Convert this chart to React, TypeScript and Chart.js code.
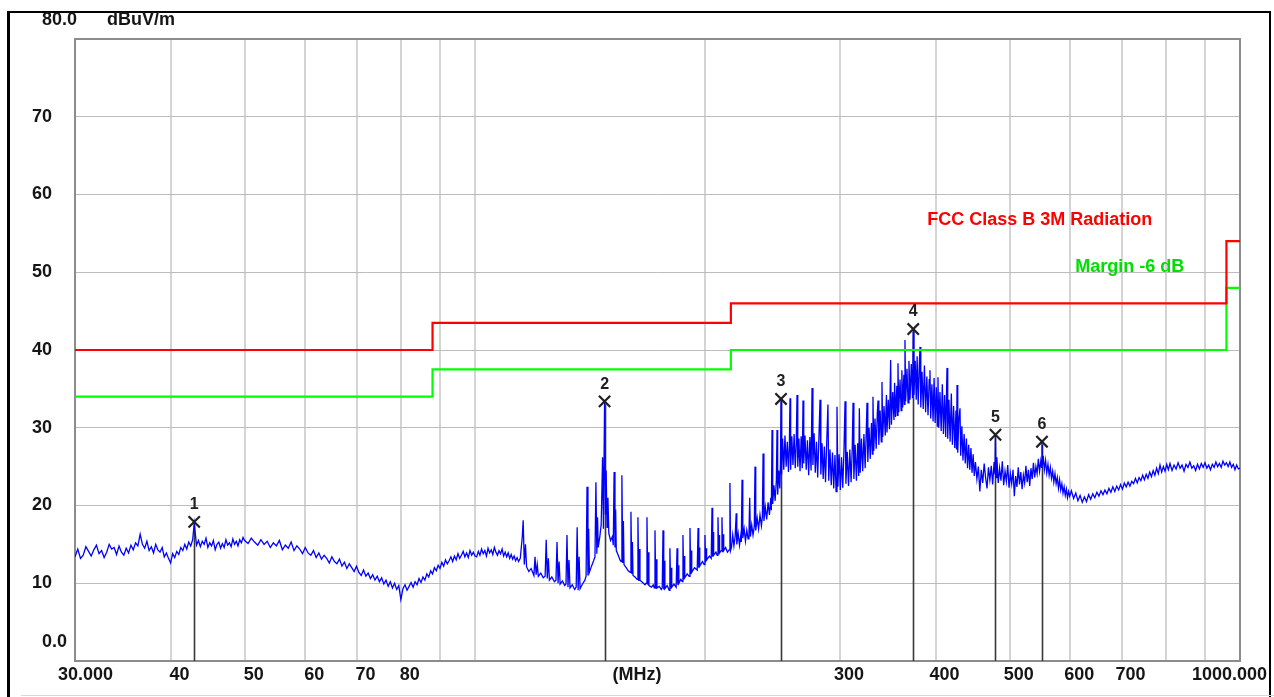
import React, { useEffect, useRef } from "react";
import { Chart, registerables } from "chart.js";

Chart.register(...registerables);

// ---------- axis definition ----------
const FREQ_MIN = 30;
const FREQ_MAX = 1000;
const LEVEL_MIN = 0;
const LEVEL_MAX = 80;

const xGridMHz = [40, 50, 60, 70, 80, 90, 100, 200, 300, 400, 500, 600, 700, 800, 900];
const xTickMHz = [30, 40, 50, 60, 70, 80, 300, 400, 500, 600, 700, 1000];
const xTickText = ["30.000", "40", "50", "60", "70", "80", "300", "400", "500", "600", "700", "1000.000"];
const yTickDb = [10, 20, 30, 40, 50, 60, 70];
const yTickText = ["10", "20", "30", "40", "50", "60", "70"];
const yBottomText = "0.0";
const yTopText = "80.0";
const yUnit = "dBuV/m";
const xUnit = "(MHz)";

// ---------- limit lines ----------
const limitMHz = [30, 88, 216, 960, 1000];
const limitClassB = [40, 43.5, 46, 54, 54];
const limitMargin = [34, 37.5, 40, 48, 48];
const limitClassBName = "FCC Class B 3M Radiation";
const limitMarginName = "Margin -6 dB";

// ---------- markers ----------
const markerId = ["1", "2", "3", "4", "5", "6"];
const markerMHz = [42.95, 147.7, 251.2, 374.0, 479.0, 551.0];
const markerDb = [17.9, 33.4, 33.7, 42.7, 29.1, 28.2];

// ---------- measured trace (MHz, dBuV/m) ----------
const scan30to50: [number, number][] = [
  [30.0, 13.4], [30.25, 14.4], [30.5, 13.2], [30.75, 13.6], [31.0, 14.7], [31.25, 14.1], [31.5, 13.5], [31.75, 14.3],
  [32.0, 14.9], [32.25, 13.8], [32.5, 14.2], [32.75, 13.3], [33.0, 14.0], [33.25, 15.0], [33.5, 14.4], [33.75, 14.6],
  [34.0, 13.7], [34.25, 14.8], [34.5, 14.0], [34.75, 13.6], [35.0, 14.5], [35.25, 13.9], [35.5, 14.9], [35.75, 14.3],
  [36.0, 15.2], [36.25, 14.8], [36.5, 16.3], [36.75, 15.0], [37.0, 14.5], [37.25, 15.4], [37.5, 14.2], [37.75, 14.7],
  [38.0, 13.9], [38.25, 15.0], [38.5, 14.3], [38.75, 14.0], [39.0, 14.6], [39.25, 13.4], [39.5, 13.9], [39.75, 13.2],
  [40.0, 12.6], [40.25, 13.8], [40.5, 13.3], [40.75, 14.1], [41.0, 13.7], [41.25, 14.6], [41.5, 14.2], [41.75, 15.0],
  [42.0, 14.4], [42.25, 15.3], [42.5, 14.8], [42.75, 15.6], [42.95, 17.7], [43.25, 14.9], [43.5, 15.5], [43.75, 14.7],
  [44.0, 15.4], [44.25, 15.0], [44.5, 15.8], [44.75, 14.6], [45.0, 15.2], [45.25, 14.8], [45.5, 15.5], [45.75, 14.3],
  [46.0, 15.0], [46.25, 15.3], [46.5, 14.5], [46.75, 15.1], [47.0, 14.6], [47.25, 15.6], [47.5, 14.9], [47.75, 15.2],
  [48.0, 14.7], [48.25, 15.7], [48.5, 15.0], [48.75, 15.4], [49.0, 14.8], [49.25, 15.6], [49.5, 15.2], [49.75, 15.9],
  [50.0, 15.5],
];

const scan50to100: [number, number][] = [
  [50.5, 15.1], [51.0, 15.8], [51.5, 15.3], [52.0, 14.9], [52.5, 15.6], [53.0, 15.0], [53.5, 15.4], [54.0, 14.6],
  [54.5, 15.2], [55.0, 14.8], [55.5, 15.5], [56.0, 14.3], [56.5, 14.9], [57.0, 14.5], [57.5, 15.3], [58.0, 14.2],
  [58.5, 14.8], [59.0, 14.4], [59.5, 13.8], [60.0, 14.6], [60.5, 13.9], [61.0, 13.6], [61.5, 14.2], [62.0, 13.3],
  [62.5, 13.9], [63.0, 13.1], [63.5, 13.6], [64.0, 13.2], [64.5, 12.6], [65.0, 13.4], [65.5, 12.8], [66.0, 12.5],
  [66.5, 13.1], [67.0, 12.2], [67.5, 12.7], [68.0, 11.9], [68.5, 12.5], [69.0, 12.0], [69.5, 11.5], [70.0, 12.2],
  [70.5, 11.4], [71.0, 11.0], [71.5, 11.7], [72.0, 10.9], [72.5, 11.3], [73.0, 10.6], [73.5, 11.1], [74.0, 10.4],
  [74.5, 10.9], [75.0, 10.2], [75.5, 10.7], [76.0, 9.9], [76.5, 10.4], [77.0, 9.6], [77.5, 10.2], [78.0, 9.4],
  [78.5, 10.0], [79.0, 9.2], [79.5, 9.7], [80.0, 7.9], [80.5, 9.3], [81.0, 9.8], [81.5, 9.1], [82.0, 9.6],
  [82.5, 10.1], [83.0, 9.5], [83.5, 10.2], [84.0, 9.8], [84.5, 10.6], [85.0, 10.1], [85.5, 10.8], [86.0, 10.4],
  [86.5, 11.2], [87.0, 10.8], [87.5, 11.6], [88.0, 11.2], [88.5, 12.0], [89.0, 11.6], [89.5, 12.3], [90.0, 11.9],
  [90.5, 12.7], [91.0, 12.2], [91.5, 13.0], [92.0, 12.5], [92.5, 12.9], [93.0, 13.4], [93.5, 12.8], [94.0, 13.5],
  [94.5, 13.0], [95.0, 13.8], [95.5, 13.2], [96.0, 13.6], [96.5, 14.1], [97.0, 13.4], [97.5, 13.9], [98.0, 13.3],
  [98.5, 14.2], [99.0, 13.6], [99.5, 14.0], [100.0, 13.5],
];

const scan100to216: [number, number][] = [
  [100.5, 13.4], [101, 14.1], [101.5, 13.6], [102, 14.4], [102.5, 13.8], [103, 14.2], [103.5, 13.5], [104, 14.5],
  [104.5, 13.9], [105, 14.3], [105.5, 13.7], [106, 14.6], [106.5, 14.0], [107, 13.6], [107.5, 14.2], [108, 13.8],
  [108.5, 14.4], [109, 13.5], [109.5, 14.0], [110, 13.4], [110.5, 13.9], [111, 13.2], [111.5, 13.7], [112, 13.1],
  [112.5, 13.5], [113, 12.9], [113.5, 13.3], [114, 12.8], [114.6, 13.2], [115.3, 16.0], [115.6, 18.1], [116.0, 12.4],
  [116.4, 15.0], [116.8, 12.1], [117.6, 11.5], [118.4, 11.9], [119.4, 11.0], [119.8, 13.4], [120.2, 11.1], [120.6, 12.4],
  [121.0, 10.9], [121.9, 11.3], [122.8, 10.7], [123.5, 10.9], [123.9, 15.6], [124.3, 10.6], [124.7, 13.2], [125.1, 10.4],
  [126.0, 10.8], [127.0, 10.2], [127.6, 10.4], [128.0, 15.3], [128.4, 10.0], [128.8, 12.8], [129.2, 9.9], [130.1, 10.3],
  [131.0, 9.7], [131.5, 9.9], [131.9, 16.2], [132.3, 9.5], [132.7, 13.0], [133.1, 9.4], [134.0, 9.8], [135.0, 9.2],
  [135.6, 9.5], [136.0, 17.2], [136.4, 9.1], [136.8, 13.4], [137.2, 9.3], [138.2, 9.9], [139.2, 10.4], [139.7, 10.9],
  [140.1, 22.4], [140.5, 11.0], [140.8, 17.0], [141.1, 11.4], [142.0, 12.2], [142.9, 12.9], [143.5, 13.4], [143.9, 23.0],
  [144.3, 13.8], [144.6, 18.5], [144.9, 14.6], [145.6, 16.0], [146.2, 17.5], [146.8, 26.2], [147.2, 17.0], [147.7, 33.4],
  [148.1, 18.8], [148.4, 24.5], [148.8, 17.2], [149.2, 21.0], [149.6, 16.4], [150.4, 15.5], [151.2, 16.0], [151.6, 14.9],
  [152.0, 24.3], [152.4, 14.6], [152.7, 19.5], [153.0, 14.2], [153.9, 13.6], [154.7, 13.0], [155.2, 12.8], [155.6, 23.9],
  [156.0, 12.6], [156.3, 18.0], [156.6, 12.4], [157.6, 12.0], [158.6, 11.6], [159.5, 11.4], [159.9, 19.2], [160.3, 11.2],
  [160.6, 15.3], [160.9, 11.0], [161.9, 10.8], [162.9, 10.5], [163.3, 18.5], [163.7, 10.3], [164.0, 14.4], [164.3, 10.4],
  [165.6, 10.1], [166.8, 9.8], [167.4, 10.0], [167.8, 18.5], [168.2, 9.8], [168.5, 14.0], [168.8, 9.7], [170.1, 9.5],
  [171.0, 9.8], [171.5, 9.4], [171.9, 16.8], [172.3, 9.3], [172.6, 13.1], [172.9, 9.4], [174.1, 9.6], [175.2, 9.2],
  [175.7, 9.4], [176.1, 16.8], [176.5, 9.2], [176.8, 12.9], [177.1, 9.3], [178.3, 9.7], [179.4, 9.1], [179.8, 14.5],
  [180.2, 9.3], [180.5, 12.0], [180.8, 9.5], [182.0, 9.9], [183.2, 9.5], [183.7, 14.5], [184.1, 9.8], [184.4, 12.3],
  [184.7, 10.0], [185.8, 10.5], [186.6, 10.2], [187.0, 16.2], [187.4, 10.5], [187.7, 13.5], [188.0, 10.7], [189.4, 11.2],
  [190.5, 10.9], [191.0, 17.1], [191.4, 11.2], [191.7, 14.2], [192.0, 11.4], [193.6, 12.0], [195.2, 11.7], [195.7, 17.1],
  [196.1, 12.0], [196.4, 14.6], [196.7, 12.2], [198.3, 12.8], [199.3, 12.4], [199.8, 16.2], [200.2, 12.7], [200.5, 14.5],
  [200.8, 13.0], [202.5, 13.5], [203.6, 13.2], [204.1, 19.7], [204.5, 13.4], [204.8, 16.6], [205.1, 13.6], [206.5, 14.0],
  [207.3, 13.6], [207.8, 18.5], [208.2, 13.8], [208.5, 16.2], [208.8, 13.9], [209.8, 14.2], [210.3, 18.5], [210.7, 14.0],
  [211.0, 16.3], [211.4, 14.2], [212.6, 14.6], [213.8, 14.0], [214.9, 14.3], [215.4, 22.9], [215.8, 14.2],
];

const scan216to450: [number, number][] = [
  [216.4, 14.6], [217.2, 16.2], [218.0, 14.8], [218.8, 16.0], [219.5, 19.0], [219.9, 15.0], [220.8, 16.4], [221.7, 14.9],
  [222.5, 16.1], [222.9, 15.3], [223.4, 23.3], [223.9, 15.8], [224.8, 17.0], [225.7, 15.4], [226.6, 16.8], [227.5, 15.7],
  [228.1, 16.3], [228.6, 21.0], [229.1, 16.0], [230.0, 17.5], [230.9, 16.2], [231.8, 17.3], [232.3, 25.0], [232.8, 16.8],
  [233.8, 18.4], [234.8, 17.0], [235.8, 18.8], [236.8, 17.4], [237.5, 18.6], [238.0, 26.7], [238.6, 18.0], [239.6, 19.8],
  [240.6, 18.2], [241.6, 20.4], [242.6, 18.8], [243.6, 21.0], [244.0, 19.4], [244.5, 29.7], [245.0, 20.2], [245.9, 22.6],
  [246.8, 20.6], [247.7, 23.2], [248.2, 29.7], [248.7, 21.4], [249.5, 24.5], [250.3, 22.2], [250.8, 25.5], [251.2, 33.7],
  [251.6, 24.0], [252.4, 28.6], [253.3, 24.6], [254.2, 29.0], [255.1, 25.0], [256.0, 28.2], [256.9, 24.3], [257.6, 27.8],
  [258.1, 33.8], [258.6, 24.6], [259.5, 28.9], [260.4, 25.2], [261.3, 29.2], [262.2, 24.8], [263.0, 28.0], [263.6, 34.2],
  [264.2, 25.0], [265.1, 28.6], [266.0, 24.4], [266.9, 28.9], [267.8, 24.8], [268.4, 33.5], [269.0, 25.4], [270.0, 29.0],
  [271.0, 24.6], [272.0, 28.4], [273.0, 23.9], [274.0, 28.8], [275.0, 24.5], [275.8, 35.1], [276.5, 25.2], [277.5, 29.3],
  [278.5, 24.2], [279.5, 28.2], [280.5, 23.6], [281.5, 28.5], [282.5, 33.6], [283.2, 24.0], [284.2, 28.0], [285.2, 23.4],
  [286.2, 27.6], [287.2, 23.0], [288.2, 27.9], [289.3, 33.0], [290.0, 23.2], [291.1, 27.2], [292.2, 22.6], [293.3, 26.8],
  [294.4, 22.2], [295.5, 26.5], [296.5, 21.8], [297.3, 32.7], [298.1, 22.4], [299.2, 26.6], [300.3, 22.0], [301.4, 26.2],
  [302.5, 22.3], [303.6, 27.0], [304.6, 33.4], [305.4, 22.8], [306.6, 26.9], [307.8, 22.5], [309.0, 27.2], [310.2, 23.0],
  [311.3, 27.5], [312.0, 33.2], [312.8, 23.4], [314.0, 27.8], [315.2, 23.2], [316.4, 28.0], [317.4, 23.8], [318.0, 32.5],
  [318.8, 24.2], [320.0, 28.6], [321.2, 24.4], [322.4, 29.2], [323.6, 24.8], [324.7, 29.6], [325.4, 33.2], [326.2, 25.6],
  [327.4, 30.0], [328.6, 26.0], [329.8, 30.6], [330.7, 26.6], [331.3, 34.0], [332.1, 27.0], [333.3, 31.2], [334.5, 27.3],
  [335.7, 32.0], [336.4, 33.5], [337.2, 27.8], [338.5, 32.2], [339.7, 28.2], [340.4, 35.9], [341.2, 28.8], [342.5, 32.8],
  [343.8, 29.0], [345.0, 34.2], [345.6, 29.4], [346.9, 33.6], [348.2, 29.8], [349.4, 38.7], [350.2, 30.4], [351.6, 34.6],
  [352.9, 31.0], [353.6, 35.8], [354.6, 31.4], [356.0, 35.4], [356.6, 31.6], [357.2, 38.3], [358.0, 32.0], [359.4, 36.2],
  [360.6, 32.2], [361.4, 37.4], [362.3, 32.6], [363.6, 36.8], [364.2, 33.0], [364.8, 41.3], [365.6, 33.4], [367.0, 37.6],
  [368.2, 33.2], [369.2, 38.6], [370.4, 33.6], [371.8, 38.2], [373.2, 33.8], [374.0, 42.7], [374.8, 34.2], [376.2, 38.6],
  [377.4, 33.6], [378.4, 39.2], [379.6, 33.0], [380.8, 37.8], [381.7, 40.4], [382.6, 32.6], [384.0, 37.2], [385.4, 32.4],
  [386.8, 38.0], [388.2, 32.0], [389.6, 36.6], [391.0, 31.6], [392.4, 36.2], [393.3, 37.4], [394.2, 31.2], [395.6, 35.6],
  [397.0, 30.8], [398.2, 36.4], [399.5, 30.6], [400.9, 35.2], [402.1, 30.2], [402.9, 36.5], [403.8, 30.0], [405.3, 34.6],
  [406.8, 29.6], [408.2, 35.6], [409.6, 29.2], [411.0, 34.2], [412.4, 28.8], [414.0, 37.7], [414.9, 28.6], [416.4, 33.6],
  [417.9, 28.2], [419.4, 34.4], [420.8, 27.8], [422.3, 32.8], [423.8, 27.4], [425.3, 32.2], [426.0, 27.2], [426.7, 35.5],
  [427.6, 26.8], [429.0, 31.0], [430.5, 32.5], [431.4, 26.4], [432.9, 30.2], [434.4, 25.8], [435.9, 29.2], [437.4, 25.4],
  [438.9, 28.6], [440.4, 24.8], [441.9, 27.8], [443.4, 24.6], [444.9, 27.4], [446.4, 24.2], [447.9, 26.6], [449.4, 23.8],
];

const scan450to1000: [number, number][] = [
  [451, 25.6], [453, 23.4], [455, 25.0], [457, 21.8], [459, 24.6], [461, 22.9], [463, 25.4], [465, 23.6],
  [467, 22.2], [469, 24.9], [471, 23.3], [473, 25.1], [475, 22.7], [477, 25.6], [478.3, 24.0], [479, 29.0],
  [479.8, 23.6], [481, 26.2], [483, 22.9], [485, 24.8], [487, 23.2], [489, 25.7], [491, 22.6], [493, 24.4],
  [495, 23.1], [497, 25.2], [499, 22.3], [501, 24.1], [503, 22.8], [505, 24.6], [507, 21.2], [509, 23.8],
  [511, 22.4], [513, 24.9], [515, 22.7], [517, 24.3], [519, 22.1], [521, 23.9], [523, 22.9], [525, 25.1],
  [527, 23.0], [529, 24.6], [531, 22.5], [533, 24.8], [535, 23.4], [537, 25.5], [539, 23.6], [541, 25.0],
  [543, 24.1], [545, 26.0], [547, 24.4], [549, 25.7], [550.3, 24.9], [551, 28.1], [551.8, 25.2], [553, 26.4],
  [555, 24.6], [557, 25.8], [559, 24.2], [561, 25.3], [563, 23.9], [565, 24.9], [567, 23.5], [569, 24.4],
  [571, 23.0], [573, 24.1], [575, 22.8], [577, 23.6], [579, 22.2], [581, 23.3], [583, 22.0], [585, 22.8],
  [587, 21.6], [589, 22.4], [591, 21.3], [593, 22.1], [595, 21.0], [597, 21.8], [599, 21.2], [602, 21.9],
  [606, 20.9], [610, 21.6], [614, 20.6], [618, 21.3], [622, 20.4], [626, 21.1], [630, 20.5], [634, 21.4],
  [638, 20.8], [642, 21.5], [646, 21.0], [650, 21.7], [654, 21.2], [658, 21.9], [662, 21.4], [666, 22.0],
  [670, 21.5], [674, 22.2], [678, 21.7], [682, 22.4], [686, 21.8], [690, 22.5], [694, 22.0], [698, 22.7],
  [702, 22.1], [706, 22.9], [710, 22.4], [714, 23.0], [718, 22.5], [722, 23.1], [726, 22.8], [730, 23.5],
  [734, 22.9], [738, 23.6], [742, 23.2], [746, 23.9], [750, 23.3], [754, 24.0], [758, 23.5], [762, 24.3],
  [766, 23.7], [770, 24.5], [774, 23.9], [778, 24.8], [782, 24.1], [786, 25.2], [790, 24.3], [794, 25.0],
  [798, 24.4], [802, 25.3], [806, 24.6], [810, 25.4], [815, 24.5], [820, 25.2], [825, 24.7], [830, 25.5],
  [835, 24.8], [840, 25.2], [845, 24.4], [850, 25.3], [855, 24.9], [860, 25.6], [865, 24.8], [870, 25.1],
  [875, 24.5], [880, 25.3], [885, 24.7], [890, 25.4], [895, 24.9], [900, 25.5], [905, 24.8], [910, 25.2],
  [915, 24.6], [920, 25.3], [925, 24.9], [930, 25.6], [935, 25.0], [940, 25.4], [945, 24.9], [950, 25.7],
  [955, 25.2], [960, 25.5], [965, 25.0], [970, 25.6], [975, 24.9], [980, 25.3], [985, 24.6], [990, 25.2],
  [995, 24.7], [1000, 24.8],
];

const FONT = '"Liberation Sans", Arial, Helvetica, sans-serif';

const emiPlugin = {
  id: "emiOverlay",
  beforeDraw(chart: any) {
    const { ctx, width, height } = chart;
    ctx.save();
    ctx.fillStyle = "#ffffff";
    ctx.fillRect(0, 0, width, height);
    ctx.fillStyle = "#000000";
    ctx.fillRect(7, 11, 3, height - 11);
    ctx.fillRect(7, 11, width - 12, 2);
    ctx.fillRect(width - 5, 11, 2, height - 11);
    ctx.fillStyle = "#d8d8d8";
    ctx.fillRect(21, height - 2, width - 21, 1);
    ctx.restore();
  },
  beforeDatasetsDraw(chart: any) {
    const { ctx, chartArea: a, scales } = chart;
    ctx.save();
    ctx.strokeStyle = "#8c8c8c";
    ctx.lineWidth = 2;
    ctx.strokeRect(a.left, a.top, a.right - a.left, a.bottom - a.top);
    ctx.strokeStyle = "#383838";
    ctx.lineWidth = 1.6;
    for (let i = 0; i < markerMHz.length; i++) {
      const px = Math.round(scales.x.getPixelForValue(markerMHz[i])) + 0.5;
      const py = scales.y.getPixelForValue(markerDb[i]);
      ctx.beginPath();
      ctx.moveTo(px, py + 3);
      ctx.lineTo(px, a.bottom);
      ctx.stroke();
    }
    ctx.restore();
  },
  afterDatasetsDraw(chart: any) {
    const { ctx, chartArea: a, scales } = chart;
    const xs = scales.x;
    const ys = scales.y;
    ctx.save();
    ctx.font = `bold 18px ${FONT}`;
    ctx.fillStyle = "#151515";
    ctx.textBaseline = "middle";
    const labelY = a.bottom + 14;
    xTickMHz.forEach((v, i) => {
      const px = xs.getPixelForValue(v);
      if (i === 0) {
        ctx.textAlign = "left";
        ctx.fillText(xTickText[i], px - 17, labelY);
      } else if (i === xTickMHz.length - 1) {
        ctx.textAlign = "right";
        ctx.fillText(xTickText[i], px + 27, labelY);
      } else {
        ctx.textAlign = "center";
        ctx.fillText(xTickText[i], px + 9, labelY);
      }
    });
    ctx.textAlign = "center";
    ctx.fillText(xUnit, a.left + 0.4824 * (a.right - a.left), labelY);

    ctx.textAlign = "right";
    yTickDb.forEach((v, i) => {
      ctx.fillText(yTickText[i], a.left - 23, ys.getPixelForValue(v));
    });
    ctx.textAlign = "left";
    ctx.fillText(yBottomText, a.left - 33, a.bottom - 19);
    ctx.fillText(yTopText, a.left - 33, a.top - 19);
    ctx.fillText(yUnit, a.left + 32, a.top - 19);

    ctx.fillStyle = "#ff0000";
    ctx.fillText(limitClassBName, xs.getPixelForValue(390), ys.getPixelForValue(56.7));
    ctx.fillStyle = "#00e000";
    ctx.fillText(limitMarginName, xs.getPixelForValue(609), ys.getPixelForValue(50.7));

    ctx.fillStyle = "#202020";
    ctx.font = `bold 16px ${FONT}`;
    ctx.textAlign = "center";
    for (let i = 0; i < markerMHz.length; i++) {
      const px = xs.getPixelForValue(markerMHz[i]);
      const py = ys.getPixelForValue(markerDb[i]);
      ctx.fillText(markerId[i], px, py - 17);
    }
    ctx.restore();
  },
};

export default function App() {
  const ref = useRef<HTMLCanvasElement | null>(null);

  useEffect(() => {
    if (!ref.current) return;
    const trace = [...scan30to50, ...scan50to100, ...scan100to216, ...scan216to450, ...scan450to1000].map(
      ([f, l]) => ({ x: f, y: l })
    );
    const classB = limitMHz.map((f, i) => ({ x: f, y: limitClassB[i] }));
    const margin = limitMHz.map((f, i) => ({ x: f, y: limitMargin[i] }));
    const markers = markerMHz.map((f, i) => ({ x: f, y: markerDb[i] }));

    const chart = new Chart(ref.current, {
      type: "scatter",
      data: {
        datasets: [
          {
            label: "Markers",
            data: markers,
            pointStyle: "crossRot",
            pointRadius: 8,
            pointBorderWidth: 2.2,
            borderColor: "#202020",
            backgroundColor: "#202020",
            showLine: false,
            order: 0,
          },
          {
            label: limitClassBName,
            data: classB,
            showLine: true,
            stepped: true,
            borderColor: "#ff0000",
            borderWidth: 2.2,
            pointRadius: 0,
            order: 1,
          },
          {
            label: limitMarginName,
            data: margin,
            showLine: true,
            stepped: true,
            borderColor: "#00ff00",
            borderWidth: 2.2,
            pointRadius: 0,
            order: 1,
          },
          {
            label: "Scan",
            data: trace,
            showLine: true,
            borderColor: "#0000ff",
            borderWidth: 1.3,
            pointRadius: 0,
            tension: 0,
            order: 2,
          },
        ],
      },
      options: {
        responsive: false,
        animation: false,
        events: [],
        layout: { padding: { left: 75, top: 39, right: 34, bottom: 36 } },
        plugins: { legend: { display: false }, tooltip: { enabled: false }, title: { display: false } },
        scales: {
          x: {
            type: "logarithmic",
            min: FREQ_MIN,
            max: FREQ_MAX,
            afterBuildTicks: (s: any) => {
              s.ticks = xGridMHz.map((v) => ({ value: v }));
            },
            ticks: { display: false },
            grid: { color: "#d4d4d4", lineWidth: 2, drawTicks: false },
            border: { display: false },
          },
          y: {
            type: "linear",
            min: LEVEL_MIN,
            max: LEVEL_MAX,
            afterBuildTicks: (s: any) => {
              s.ticks = yTickDb.map((v) => ({ value: v }));
            },
            ticks: { display: false },
            grid: { color: "#bcbcbc", lineWidth: 1, drawTicks: false },
            border: { display: false },
          },
        },
      },
      plugins: [emiPlugin],
    });
    return () => chart.destroy();
  }, []);

  return (
    <canvas
      ref={ref}
      width={1274}
      height={697}
      style={{ position: "fixed", left: 0, top: 0, display: "block" }}
    />
  );
}
